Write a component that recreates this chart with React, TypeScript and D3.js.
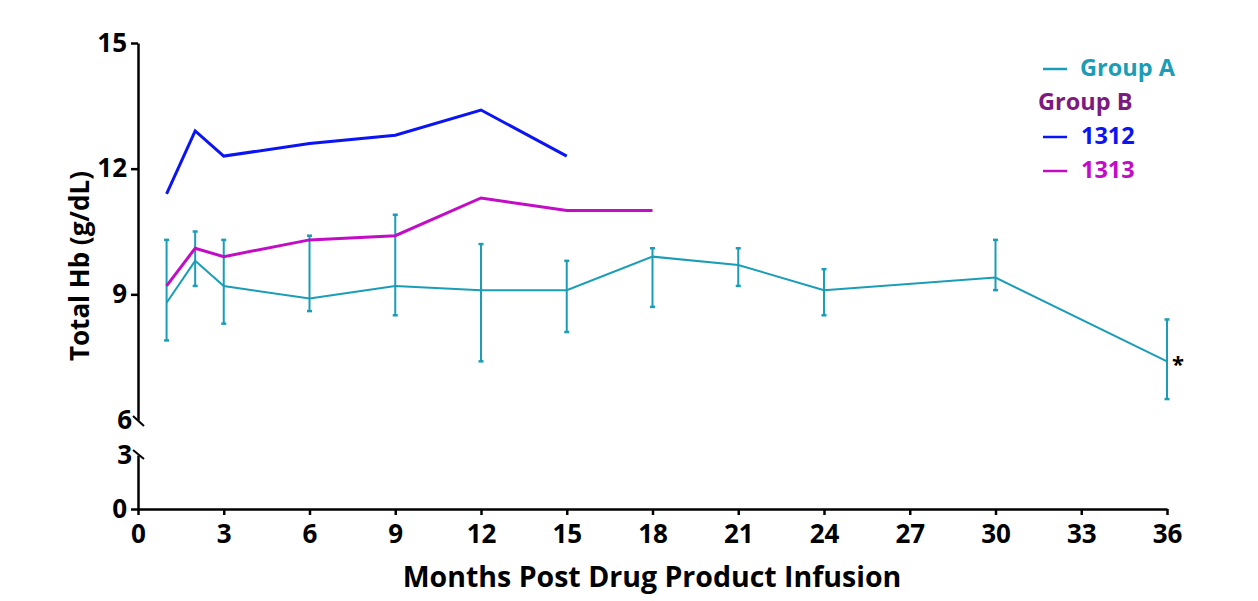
import { useEffect, useRef } from 'react';
import * as d3 from 'd3';

// months
const xTicks = [0, 3, 6, 9, 12, 15, 18, 21, 24, 27, 30, 33, 36];
const upperTicks = [15, 12, 9, 6];
const lowerTicks = [3, 0];

const monthsA = [1, 2, 3, 6, 9, 12, 15, 18, 21, 24, 30, 36];
const meanA = [8.8, 9.8, 9.2, 8.9, 9.2, 9.1, 9.1, 9.9, 9.7, 9.1, 9.4, 7.4];
const hiA = [10.3, 10.5, 10.3, 10.4, 10.9, 10.2, 9.8, 10.1, 10.1, 9.6, 10.3, 8.4];
const loA = [7.9, 9.2, 8.3, 8.6, 8.5, 7.4, 8.1, 8.7, 9.2, 8.5, 9.1, 6.5];

const months1312 = [1, 2, 3, 6, 9, 12, 15];
const values1312 = [11.4, 12.9, 12.3, 12.6, 12.8, 13.4, 12.3];

const months1313 = [1, 2, 3, 6, 9, 12, 15, 18];
const values1313 = [9.2, 10.1, 9.9, 10.3, 10.4, 11.3, 11.0, 11.0];

const TEAL = '#1a9db7';
const BLUE = '#0a14f5';
const MAGENTA = '#c20cc6';
const PURPLE = '#7d1a80';
const FONT = '"Open Sans", sans-serif';

export default function App() {
    const chartRef = useRef<SVGSVGElement>(null);

    useEffect(() => {
        const width = 1258;
        const height = 601;
        const svg = d3.select(chartRef.current)
            .attr('width', width)
            .attr('height', height);
        svg.selectAll('*').remove();

        const x = d3.scaleLinear().domain([0, 36]).range([138, 1167]);
        const yUp = d3.scaleLinear().domain([6, 15]).range([420, 43]);
        const yLow = d3.scaleLinear().domain([0, 3]).range([509, 455]);

        const styleAxis = (g: any, size: number) => {
            g.select('.domain').attr('stroke', '#000').attr('stroke-width', 2.5);
            g.selectAll('.tick line').attr('stroke', '#000').attr('stroke-width', 2.5);
            g.selectAll('.tick text')
                .attr('fill', '#000')
                .style('font-family', FONT)
                .style('font-weight', 700)
                .style('font-size', size + 'px');
        };

        // x axis
        const gx = svg.append('g')
            .attr('transform', 'translate(0,509)')
            .call(d3.axisBottom(x).tickValues(xTicks).tickSize(6).tickSizeOuter(0).tickPadding(10));
        styleAxis(gx, 26);

        // upper y axis
        const gyU = svg.append('g')
            .attr('transform', 'translate(138,0)')
            .call(d3.axisLeft(yUp).tickValues(upperTicks).tickFormat(d3.format('d')).tickSize(7).tickSizeOuter(0).tickPadding(4));
        styleAxis(gyU, 26);
        gyU.selectAll('.tick').filter((d: any) => d === 6).select('line').remove();
        gyU.selectAll('.tick').filter((d: any) => d === 6).select('text').attr('x', -6);

        // lower y axis
        const gyL = svg.append('g')
            .attr('transform', 'translate(138,0)')
            .call(d3.axisLeft(yLow).tickValues(lowerTicks).tickFormat(d3.format('d')).tickSize(7).tickSizeOuter(0).tickPadding(4));
        styleAxis(gyL, 26);
        gyL.selectAll('.tick').filter((d: any) => d === 3).select('line').remove();
        gyL.selectAll('.tick').filter((d: any) => d === 3).select('text').attr('x', -6);

        // break marks
        svg.append('line').attr('x1', 133).attr('y1', 416).attr('x2', 144).attr('y2', 426)
            .attr('stroke', '#000').attr('stroke-width', 2);
        svg.append('line').attr('x1', 133).attr('y1', 450).attr('x2', 144).attr('y2', 459)
            .attr('stroke', '#000').attr('stroke-width', 2);

        // axis titles
        svg.append('text')
            .attr('x', 652).attr('y', 587)
            .attr('text-anchor', 'middle')
            .style('font-family', FONT).style('font-weight', 700).style('font-size', '28.5px')
            .text('Months Post Drug Product Infusion');
        svg.append('text')
            .attr('transform', 'translate(89,266) rotate(-90)')
            .attr('text-anchor', 'middle')
            .style('font-family', FONT).style('font-weight', 700).style('font-size', '26px')
            .text('Total Hb (g/dL)');

        const line = d3.line<[number, number]>()
            .x(d => x(d[0]))
            .y(d => yUp(d[1]));

        // Group A error bars
        const bars = svg.append('g');
        monthsA.forEach((m, i) => {
            const cx = x(m);
            bars.append('line').attr('x1', cx).attr('x2', cx)
                .attr('y1', yUp(hiA[i])).attr('y2', yUp(loA[i]))
                .attr('stroke', TEAL).attr('stroke-width', 2);
            [hiA[i], loA[i]].forEach(v => {
                bars.append('line').attr('x1', cx - 2.5).attr('x2', cx + 2.5)
                    .attr('y1', yUp(v)).attr('y2', yUp(v))
                    .attr('stroke', TEAL).attr('stroke-width', 2.5);
            });
        });

        svg.append('path')
            .datum(monthsA.map((m, i) => [m, meanA[i]] as [number, number]))
            .attr('d', line).attr('fill', 'none')
            .attr('stroke', TEAL).attr('stroke-width', 2);

        svg.append('path')
            .datum(months1313.map((m, i) => [m, values1313[i]] as [number, number]))
            .attr('d', line).attr('fill', 'none')
            .attr('stroke', MAGENTA).attr('stroke-width', 3);

        svg.append('path')
            .datum(months1312.map((m, i) => [m, values1312[i]] as [number, number]))
            .attr('d', line).attr('fill', 'none')
            .attr('stroke', BLUE).attr('stroke-width', 3);

        // asterisk
        svg.append('text')
            .attr('x', x(36) + 5).attr('y', yUp(meanA[meanA.length - 1]) + 11)
            .style('font-family', FONT).style('font-weight', 700).style('font-size', '22px')
            .text('*');

        // legend
        const legend = [
            { label: 'Group A', color: TEAL, y: 70, swatch: true, lx: 1080 },
            { label: 'Group B', color: PURPLE, y: 104, swatch: false, lx: 1038 },
            { label: '1312', color: BLUE, y: 138, swatch: true, lx: 1081 },
            { label: '1313', color: MAGENTA, y: 172, swatch: true, lx: 1081 },
        ];
        legend.forEach(d => {
            if (d.swatch) {
                svg.append('line').attr('x1', 1043).attr('x2', 1067)
                    .attr('y1', d.y - 1).attr('y2', d.y - 1)
                    .attr('stroke', d.color).attr('stroke-width', 2.5);
            }
            svg.append('text')
                .attr('x', d.lx).attr('y', d.y)
                .attr('dominant-baseline', 'middle')
                .attr('fill', d.color)
                .style('font-family', FONT).style('font-weight', 700).style('font-size', '23.5px')
                .text(d.label);
        });
    }, []);

    return (
        <div style={{ position: 'absolute', left: 0, top: 0 }}>
            <svg ref={chartRef}></svg>
        </div>
    );
}
